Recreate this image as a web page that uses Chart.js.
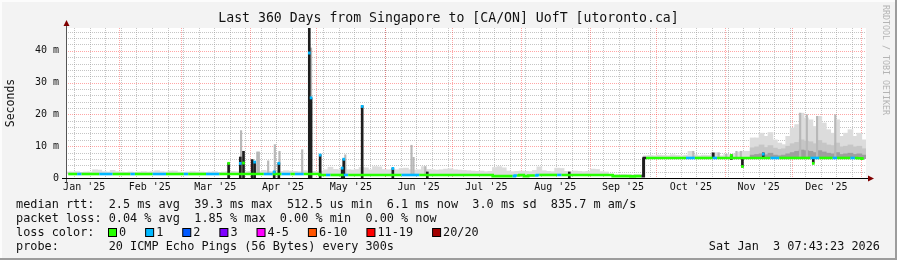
<!DOCTYPE html>
<html>
<head>
<meta charset="utf-8">
<title>Last 360 Days from Singapore to [CA/ON] UofT</title>
<script src="https://cdn.jsdelivr.net/npm/chart.js@4.4.1/dist/chart.umd.min.js"></script>
<style>
  html, body { margin: 0; padding: 0; background: #f3f3f3; }
  canvas { display: block; }
</style>
</head>
<body>
<canvas id="rttChart" width="897" height="260"></canvas>
<script>
// x axis is "days since 2025-01-01", the graph covers 360 days up to Jan 3 2026 07:43
const firstDay = 7.32;
const lastDay = 367.32;
const bucketDays = 2;

const monthLabels = ["Jan '25", "Feb '25", "Mar '25", "Apr '25", "May '25", "Jun '25",
                     "Jul '25", "Aug '25", "Sep '25", "Oct '25", "Nov '25", "Dec '25"];
const monthLabelDays = [15.5, 45, 74.5, 105, 135.5, 166, 196.5, 227.5, 258, 288.5, 319, 349.5];
const monthStartDays = [31, 59, 90, 120, 151, 181, 212, 243, 273, 304, 334, 365];
const yTickValues = [0, 10, 20, 30, 40];
const yMaxMs = 47.17;

// median rtt per 2 day bucket (ms)
const medianMs = [
  1.25, 1.25, 1.25, 1.25, 1.25, 1.25, 1.25, 1.25, 1.25, 1.25,
  1.25, 1.25, 1.25, 1.25, 1.25, 1.25, 1.25, 1.25, 1.25, 1.25,
  1.25, 1.25, 1.25, 1.25, 1.25, 1.25, 1.25, 1.25, 1.25, 1.25,
  1.25, 1.25, 1.25, 1.25, 1.25, 1.25, 1.25, 1.25, 1.25, 1.25,
  1.25, 1.25, 1.25, 1.25, 1.25, 1.25, 1.25, 1.25, 1.25, 1.25,
  1.25, 1.25, 1.25, 1.25, 1.25, 1.25, 1.25, 0.95, 0.95, 0.95,
  0.95, 0.95, 0.95, 0.95, 0.95, 0.95, 0.95, 0.95, 0.95, 0.95,
  0.95, 0.95, 0.95, 0.95, 0.95, 0.95, 0.95, 0.95, 0.95, 0.95,
  0.95, 0.95, 0.95, 0.95, 0.95, 0.95, 0.95, 0.95, 0.95, 0.95,
  0.95, 0.95, 0.95, 0.95, 0.95, 0.95, 0.6, 0.6, 0.6, 0.6,
  0.6, 0.8, 0.95, 0.6, 0.8, 0.8, 0.95, 0.95, 0.95, 0.95,
  0.95, 0.95, 0.95, 0.95, 0.95, 0.95, 0.95, 0.95, 0.95, 0.95,
  0.95, 0.95, 0.95, 0.6, 0.6, 0.6, 0.6, 0.5, 0.6, 0.6,
  6.3, 6.3, 6.3, 6.3, 6.3, 6.3, 6.3, 6.3, 6.3, 6.3,
  6.3, 6.3, 6.3, 6.3, 6.3, 6.3, 6.3, 6.3, 6.3, 6.3,
  6.3, 6.3, 6.3, 6.3, 6.3, 6.3, 6.3, 6.3, 6.3, 6.3,
  6.3, 6.3, 6.3, 6.3, 6.3, 6.3, 6.3, 6.3, 6.3, 6.3,
  6.3, 6.3, 6.3, 6.3, 6.3, 6.3, 6.3, 6.3, 6.2, 6.1
];

// lost pings (of 20) per bucket, picks the median line colour
const lossCount = [
  0, 0, 1, 0, 0, 0, 0, 1, 1, 1,
  0, 0, 0, 0, 1, 0, 0, 0, 0, 1,
  1, 1, 0, 0, 0, 0, 1, 0, 0, 0,
  0, 1, 1, 1, 0, 0, 0, 0, 0, 0,
  0, 0, 0, 0, 1, 1, 0, 0, 1, 1,
  0, 1, 1, 0, 0, 0, 0, 0, 1, 0,
  0, 0, 1, 0, 0, 0, 0, 0, 0, 0,
  0, 0, 0, 0, 0, 1, 1, 1, 1, 0,
  0, 0, 0, 0, 0, 0, 0, 0, 0, 0,
  0, 0, 0, 0, 0, 0, 0, 0, 0, 0,
  1, 0, 0, 0, 0, 1, 0, 0, 0, 0,
  1, 0, 0, 0, 0, 0, 0, 0, 0, 0,
  0, 0, 0, 0, 0, 0, 0, 0, 0, 0,
  0, 0, 0, 0, 0, 0, 0, 0, 0, 1,
  1, 0, 0, 0, 0, 1, 0, 0, 0, 0,
  0, 0, 0, 0, 0, 0, 0, 0, 1, 1,
  0, 0, 0, 0, 0, 0, 0, 1, 1, 0,
  0, 0, 1, 0, 0, 0, 1, 0, 0, 0
];

// top of the light smoke per bucket (ms)
const smokeTopMs = [
  1.9, 1.9, 2.0, 1.8, 1.9, 1.9, 2.6, 2.5, 2.0, 1.9,
  2.4, 2.0, 1.9, 1.8, 1.9, 1.8, 1.9, 2.0, 1.9, 2.0,
  2.3, 2.0, 1.9, 2.2, 2.2, 1.9, 1.8, 1.9, 2.0, 1.9,
  1.9, 1.8, 1.9, 2.0, 1.8, 1.9, 2.0, 2.1, 2.0, 2.2,
  2.0, 2.1, 2.2, 2.0, 2.4, 2.1, 2.0, 2.2, 2.1, 2.3,
  2.2, 2.1, 2.0, 2.3, 2.2, 2.1, 2.0, 2.2, 2.6, 3.4,
  2.7, 2.6, 3.4, 2.6, 2.5, 2.7, 3.3, 3.2, 2.6, 3.6,
  3.5, 2.7, 2.6, 2.5, 2.6, 3.0, 3.1, 2.6, 2.5, 2.6,
  3.6, 2.7, 2.6, 2.5, 2.6, 2.8, 2.9, 2.6, 2.5, 2.4,
  2.3, 2.2, 2.1, 2.2, 2.0, 2.1, 3.3, 3.6, 3.2, 2.2,
  2.0, 2.1, 2.2, 2.1, 2.0, 2.4, 3.5, 2.3, 2.1, 2.0,
  3.1, 3.0, 2.1, 2.0, 2.2, 2.1, 2.0, 2.1, 2.8, 2.7,
  2.0, 1.9, 1.2, 1.0, 1.0, 1.1, 1.0, 1.0, 1.1, 1.0,
  7.0, 7.1, 7.0, 7.2, 7.1, 7.0, 7.3, 7.1, 7.0, 7.2,
  8.4, 7.3, 7.0, 7.2, 7.1, 7.3, 8.0, 7.0, 7.4, 7.3,
  7.6, 8.2, 8.4, 8.4, 12.6, 12.6, 14.1, 13.1, 14.3, 12.0,
  11.0, 10.5, 13.1, 15.7, 16.8, 20.4, 18.9, 18.3, 16.2, 19.4,
  17.3, 15.2, 14.1, 18.3, 13.1, 14.1, 15.2, 13.1, 14.1, 12.0
];

// denser smoke in Nov/Dec, from bucket heavyStart on
const heavyStart = 154;
const heavyMidMs = [9.5, 9.8, 10.4, 9.6, 10.2, 9.4, 9.0, 9.2, 10.0, 10.8, 11.2, 12.0, 11.6,
                    11.4, 10.8, 11.8, 11.0, 10.4, 10.2, 11.0, 9.8, 10.0, 10.4, 9.8, 10.0, 9.2];
const heavyDarkMs = [7.2, 7.4, 7.6, 7.3, 7.8, 7.2, 7.0, 7.2, 7.6, 8.0, 8.4, 8.8, 8.6,
                     8.4, 8.0, 8.6, 8.2, 7.8, 7.6, 8.0, 7.4, 7.6, 7.8, 7.4, 7.6, 7.2];

// thin light grey smoke spikes
const thinDays  = [86.1, 93.4, 94.1, 98.3, 101.3, 103.4, 113.6, 117.6, 133.0, 162.8, 163.7,
                   169.0, 289.6, 298.1, 301.0, 304.4, 309.0, 311.0, 337.7, 340.7, 345.3, 353.5];
const thinTopMs = [14.9, 8.2, 8.2, 5.4, 10.5, 8.4, 8.9, 40.9, 7.3, 10.3, 6.5,
                   3.6, 8.4, 8.0, 7.9, 7.5, 8.4, 8.4, 20.4, 19.9, 19.4, 19.9];

// dark smoke columns
const spikeDays   = [80.5, 85.75, 87.2, 91.1, 92.2, 101.0, 103.1, 116.8, 117.6, 121.7, 131.6,
                     132.3, 140.6, 154.4, 169.9, 233.8, 267.2, 298.6, 306.7, 311.7, 321.1, 343.6];
const spikeLowMs  = [0, 0, 0, 0, 0, 0, 0, 0, 0, 0, 0,
                     0, 0, 0, 0, 0, 0.5, 6.3, 5.8, 3.5, 6.3, 4.7];
const spikeHighMs = [4.7, 6.6, 8.4, 5.8, 5.2, 2.0, 4.7, 47.2, 25.2, 7.3, 3.2,
                     6.0, 22.7, 3.1, 1.9, 1.9, 6.3, 7.9, 7.3, 6.2, 7.9, 6.3];

// median values of single samples off the line
const markerDays = [80.5, 85.75, 87.2, 92.2, 101.0, 103.1, 116.8, 117.6, 121.7, 131.6, 132.3,
                    140.6, 154.4, 306.7, 311.7, 321.1, 343.6];
const markerMs   = [4.6, 4.6, 4.7, 5.0, 1.9, 4.6, 39.3, 25.2, 7.2, 3.1, 5.9,
                    22.5, 3.0, 7.1, 3.6, 7.5, 4.6];
const markerLoss = [0, 1, 0, 1, 1, 1, 1, 1, 1, 1, 1,
                    1, 1, 0, 0, 1, 0];

const lossLabels = ['0', '1', '2', '3', '4-5', '6-10', '11-19', '20/20'];
const lossColors = ['#26ff00', '#00b8ff', '#0059ff', '#7e00ff', '#ff00ff', '#ff5500', '#ff0000', '#a10000'];

const legendLines = [
  'median rtt:  2.5 ms avg  39.3 ms max  512.5 us min  6.1 ms now  3.0 ms sd  835.7 m am/s',
  'packet loss: 0.04 % avg  1.85 % max  0.00 % min  0.00 % now',
  'loss color:',
  'probe:       20 ICMP Echo Pings (56 Bytes) every 300s'
];
const stampText = 'Sat Jan  3 07:43:23 2026';

const MONO = '"DejaVu Sans Mono", "Liberation Mono", monospace';

const bucketCenter = i => firstDay + bucketDays * i + bucketDays / 2;
const bucketOf = d => Math.min(medianMs.length - 1, Math.floor((d - firstDay) / bucketDays));

const medianPts = medianMs.map((v, i) => ({ x: bucketCenter(i), y: v }));
const smokePts = smokeTopMs.map((v, i) => ({ x: bucketCenter(i), y: [medianMs[i], v] }));
const midPts = heavyMidMs.map((v, i) => ({ x: bucketCenter(heavyStart + i), y: [medianMs[heavyStart + i], v] }));
const darkPts = heavyDarkMs.map((v, i) => ({ x: bucketCenter(heavyStart + i), y: [medianMs[heavyStart + i], v] }));
const thinPts = thinDays.map((d, i) => ({ x: d, y: [medianMs[bucketOf(d)], thinTopMs[i]] }));
const spikePts = spikeDays.map((d, i) => ({ x: d, y: [spikeLowMs[i], spikeHighMs[i]] }));
const markerPts = markerDays.map((d, i) => ({ x: d, y: [markerMs[i] - 0.35, markerMs[i] + 0.35] }));

function crisp(v) { return Math.round(v) + 0.5; }

const rrdLook = {
  id: 'rrdLook',
  beforeDraw(chart) {
    const { ctx, chartArea: a, width, height } = chart;
    ctx.save();
    ctx.fillStyle = '#f3f3f3';
    ctx.fillRect(0, 0, width, height);
    // 3d frame
    ctx.fillStyle = '#fcfcfc';
    ctx.fillRect(0, 0, width, 2);
    ctx.fillRect(0, 0, 2, height);
    ctx.fillStyle = '#9c9c9c';
    ctx.fillRect(0, height - 2, width, 2);
    ctx.fillRect(width - 2, 0, 2, height);
    ctx.fillStyle = '#ffffff';
    ctx.fillRect(a.left, a.top, a.right - a.left, a.bottom - a.top);
    ctx.restore();
  },
  beforeDatasetsDraw(chart) {
    const { ctx, chartArea: a, scales: { x, y } } = chart;
    ctx.save();
    ctx.lineWidth = 1;
    ctx.setLineDash([1, 1]);
    // minor grid: weekly (Sundays) and every 2 m
    ctx.strokeStyle = 'rgba(150,150,150,0.55)';
    ctx.beginPath();
    for (let d = 11; d < lastDay; d += 7) {
      const px = crisp(x.getPixelForValue(d));
      ctx.moveTo(px, a.top); ctx.lineTo(px, a.bottom);
    }
    for (let v = 2; v < yMaxMs; v += 2) {
      if (v % 10 === 0) continue;
      const py = crisp(y.getPixelForValue(v));
      ctx.moveTo(a.left, py); ctx.lineTo(a.right, py);
    }
    ctx.stroke();
    // major grid: month starts and every 10 m
    ctx.strokeStyle = 'rgba(255,0,0,0.35)';
    ctx.beginPath();
    monthStartDays.forEach(d => {
      const px = crisp(x.getPixelForValue(d));
      ctx.moveTo(px, a.top); ctx.lineTo(px, a.bottom);
    });
    yTickValues.forEach(v => {
      if (v === 0) return;
      const py = crisp(y.getPixelForValue(v));
      ctx.moveTo(a.left, py); ctx.lineTo(a.right, py);
    });
    ctx.stroke();
    ctx.restore();
  },
  afterDatasetsDraw(chart) {
    const { ctx, chartArea: a } = chart;
    ctx.save();
    const ax = crisp(a.left), ay = crisp(a.bottom);
    ctx.lineWidth = 1;
    ctx.strokeStyle = '#555';
    ctx.beginPath();
    ctx.moveTo(ax, ay + 4); ctx.lineTo(ax, a.top - 4);
    ctx.stroke();
    ctx.strokeStyle = '#000';
    ctx.beginPath();
    ctx.moveTo(a.left - 4, ay); ctx.lineTo(a.right + 4, ay);
    ctx.stroke();
    ctx.fillStyle = '#800000';
    ctx.beginPath();
    ctx.moveTo(ax - 3, a.top - 2); ctx.lineTo(ax + 3, a.top - 2); ctx.lineTo(ax, a.top - 8);
    ctx.closePath(); ctx.fill();
    ctx.beginPath();
    ctx.moveTo(a.right + 2, ay - 3); ctx.lineTo(a.right + 2, ay + 3); ctx.lineTo(a.right + 8, ay);
    ctx.closePath(); ctx.fill();
    ctx.restore();
  },
  afterDraw(chart) {
    const { ctx, width } = chart;
    ctx.save();
    ctx.fillStyle = '#111';
    ctx.textBaseline = 'middle';
    ctx.font = '13.2px ' + MONO;
    ctx.textAlign = 'center';
    ctx.fillText('Last 360 Days from Singapore to [CA/ON] UofT [utoronto.ca]', width / 2, 19);

    ctx.save();
    ctx.font = '11.5px ' + MONO;
    ctx.translate(11, 103);
    ctx.rotate(-Math.PI / 2);
    ctx.fillText('Seconds', 0, 0);
    ctx.restore();

    ctx.save();
    ctx.fillStyle = '#b4b4b4';
    ctx.font = '8.3px ' + MONO;
    ctx.textAlign = 'left';
    ctx.translate(885, 5);
    ctx.rotate(Math.PI / 2);
    ctx.fillText('RRDTOOL / TOBI OETIKER', 0, 0);
    ctx.restore();

    ctx.font = '11.85px ' + MONO;
    ctx.textAlign = 'left';
    legendLines.forEach((t, i) => ctx.fillText(t, 16, 204.5 + 14 * i));

    let bx = 108.5;
    lossLabels.forEach((lab, i) => {
      ctx.fillStyle = lossColors[i];
      ctx.fillRect(bx, 228.5, 8, 8);
      ctx.strokeStyle = '#000';
      ctx.lineWidth = 1;
      ctx.strokeRect(bx, 228.5, 8, 8);
      ctx.fillStyle = '#111';
      ctx.fillText(lab, bx + 10.5, 232.5);
      bx += 10.5 + ctx.measureText(lab).width + 19.5;
    });

    ctx.textAlign = 'right';
    ctx.fillText(stampText, 880, 246.5);
    ctx.restore();
  }
};

const barBase = { type: 'bar', grouped: false, borderWidth: 0, borderSkipped: false };

new Chart(document.getElementById('rttChart'), {
  type: 'bar',
  data: {
    datasets: [
      { ...barBase, label: 'smoke', data: smokePts, backgroundColor: '#dcdcdc', barThickness: 5, order: 7 },
      { ...barBase, label: 'smoke mid', data: midPts, backgroundColor: '#c6c6c6', barThickness: 5, order: 6 },
      { ...barBase, label: 'smoke dark', data: darkPts, backgroundColor: '#9e9e9e', barThickness: 5, order: 5 },
      { ...barBase, label: 'thin smoke', data: thinPts, backgroundColor: '#b8b8b8', barThickness: 1.5, order: 4 },
      { ...barBase, label: 'dense smoke', data: spikePts, backgroundColor: '#1e1e1e', barThickness: 2, order: 3 },
      {
        type: 'line', label: 'median rtt', data: medianPts, order: 2,
        borderColor: lossColors[0], borderWidth: 2.6, pointRadius: 0, stepped: 'middle',
        borderCapStyle: 'butt', borderJoinStyle: 'miter',
        segment: {
          borderColor: c => Math.abs(c.p1.parsed.y - c.p0.parsed.y) > 3 ? '#1e1e1e' : lossColors[lossCount[c.p0DataIndex]]
        }
      },
      {
        ...barBase, label: 'median samples', data: markerPts, barThickness: 2, order: 1,
        backgroundColor: markerLoss.map(l => lossColors[l])
      }
    ]
  },
  options: {
    responsive: false,
    devicePixelRatio: 1,
    animation: false,
    events: [],
    layout: { padding: { left: 0, right: 31, top: 28, bottom: 62 } },
    plugins: { legend: { display: false }, tooltip: { enabled: false }, title: { display: false } },
    scales: {
      x: {
        type: 'linear', min: firstDay, max: lastDay, offset: false,
        grid: { display: false, drawTicks: false },
        border: { display: false },
        afterBuildTicks: s => { s.ticks = monthLabelDays.map(v => ({ value: v })); },
        afterFit: s => { s.height = 20; },
        ticks: {
          autoSkip: false, maxRotation: 0, padding: 3, color: '#111',
          font: { family: MONO, size: 10 },
          callback: (v, i) => monthLabels[i]
        }
      },
      y: {
        type: 'linear', min: 0, max: yMaxMs,
        grid: { display: false, drawTicks: false },
        border: { display: false },
        afterBuildTicks: s => { s.ticks = yTickValues.map(v => ({ value: v })); },
        afterFit: s => { s.width = 66; },
        ticks: {
          padding: 7, color: '#111',
          font: { family: MONO, size: 10 },
          callback: v => v === 0 ? '0' : v + ' m'
        }
      }
    }
  },
  plugins: [rrdLook]
});
</script>
</body>
</html>
